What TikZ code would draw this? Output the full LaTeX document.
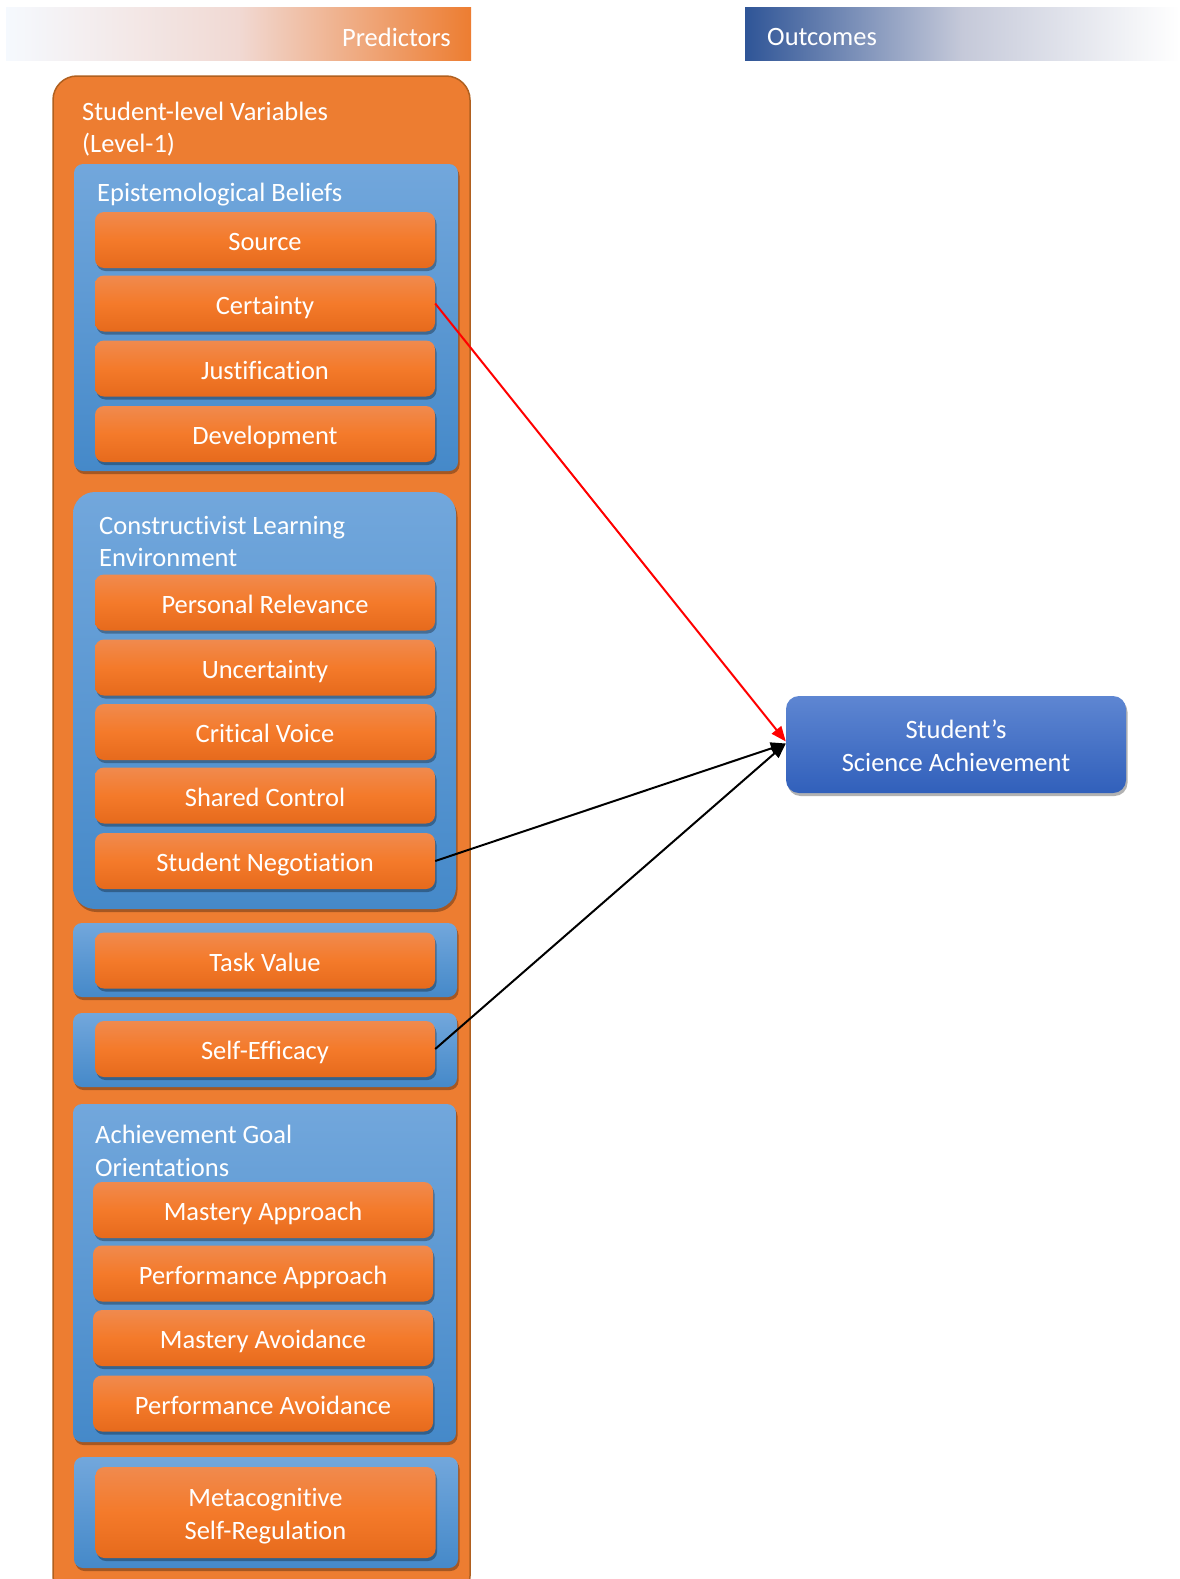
\documentclass[tikz,border=0pt]{standalone}
\usepackage{fontspec}
\setmainfont[Ligatures=NoCommon]{Carlito}
\usetikzlibrary{shadows,arrows.meta}

\definecolor{orMain}{HTML}{ED7D31}
\definecolor{orEdge}{HTML}{B0601F}
\definecolor{orTop}{HTML}{F08A4E}
\definecolor{orMid}{HTML}{F47A2A}
\definecolor{orBot}{HTML}{E66A1C}
\definecolor{blTop}{HTML}{72A7DC}
\definecolor{blBot}{HTML}{4589C9}
\definecolor{acTop}{HTML}{5E86D2}
\definecolor{acBot}{HTML}{3160BB}
\definecolor{hdBlue}{HTML}{2F5597}
\definecolor{hdPale}{HTML}{F5F9FE}
\definecolor{hdPink}{HTML}{F1D9D3}
\definecolor{hdGrey}{HTML}{C5C9D9}

\tikzset{
  x=1pt, y=-1pt,
  every node/.style={font=\fontsize{26.5}{32.5}\selectfont, text=white},
  softshadow/.style={drop shadow={shadow xshift=1.5pt, shadow yshift=-3pt, fill=black, opacity=0.3}},
  container/.style={draw=orEdge, line width=1.5pt, fill=orMain, rounded corners=24pt},
  grp/.style={rounded corners=9pt, top color=blTop, bottom color=blBot, softshadow, inner sep=0pt},
  itembox/.style={rounded corners=9pt, top color=orTop, bottom color=orBot, middle color=orMid,
               softshadow, minimum width=340pt, minimum height=56pt, inner sep=0pt, align=center},
  item/.style={itembox, text height=22pt, text depth=1pt},
  title/.style={anchor=west, align=left, inner sep=0pt},
  outcome/.style={rounded corners=13pt, top color=acTop, bottom color=acBot, softshadow,
                  minimum width=340pt, minimum height=97pt, inner sep=0pt},
  multiline/.style={align=center, inner sep=0pt},
  link/.style={line width=2pt, -{Triangle[length=15pt,width=12pt]}},
}

\begin{document}
\begin{tikzpicture}
\useasboundingbox (0,0) rectangle (1179,1579);
\clip (0,0) rectangle (1179,1579);

% header bars
\path[left color=hdPale, right color=orMain, middle color=hdPink] (6,8) rectangle (471,61);
\node[anchor=east, inner sep=0pt] (predictors) at (451,37) {Predictors};
\path[left color=hdBlue, right color=white, middle color=hdGrey] (745,8) rectangle (1179,61);
\node[anchor=west, inner sep=0pt] (outcomes) at (767,37) {Outcomes};

% student-level container
\path[container] (53,76) rectangle (470,1600);
\node[title] (lvl1) at (82,129) {Student-level Variables\\(Level-1)};

% epistemological beliefs
\node[grp, minimum width=384pt, minimum height=307pt] (gEB) at (266,317.5) {};
\node[title] (tEB) at (97,195) {Epistemological Beliefs};
\node[item] (source)  at (265,240)   {Source};
\node[item] (certain) at (265,303.5) {Certainty};
\node[item] (justif)  at (265,368.5) {Justification};
\node[item] (develop) at (265,434)   {Development};

% constructivist learning environment
\node[grp, rounded corners=22pt, minimum width=383pt, minimum height=417pt] (gCLE) at (264.5,700.5) {};
\node[title] (tCLE) at (99,541.5) {Constructivist Learning\\Environment};
\node[item] (relev)  at (265,602.5) {Personal Relevance};
\node[item] (uncert) at (265,667.5) {Uncertainty};
\node[item] (voice)  at (265,732)   {Critical Voice};
\node[item] (shared) at (265,795.5) {Shared Control};
\node[item] (negot)  at (265,861)   {Student Negotiation};

% task value
\node[grp, minimum width=384pt, minimum height=74pt] (gTV) at (265,960) {};
\node[item] (taskval) at (265,960.5) {Task Value};

% self-efficacy
\node[grp, minimum width=384pt, minimum height=74pt] (gSE) at (265,1050) {};
\node[item] (selfeff) at (265,1049) {Self-Efficacy};

% achievement goal orientations
\node[grp, minimum width=383pt, minimum height=338pt] (gAGO) at (264.5,1273) {};
\node[title] (tAGO) at (95,1151) {Achievement Goal\\Orientations};
\node[item] (mapp)  at (263,1210)   {Mastery Approach};
\node[item] (papp)  at (263,1273.5) {Performance Approach};
\node[item] (mavo)  at (263,1338)   {Mastery Avoidance};
\node[item] (pavo)  at (263,1403.5) {Performance Avoidance};

% metacognitive self-regulation
\node[grp, minimum width=384pt, minimum height=111pt] (gMSR) at (266,1512.5) {};
\node[itembox, minimum height=91pt] (metacog) at (265.5,1512.5) {};
\node[multiline, yshift=-3.5pt] (metacogtxt) at (metacog) {Metacognitive\\Self-Regulation};

% outcome
\node[outcome] (achieve) at (956,744.5) {};
\node[multiline, yshift=-1pt] (achievetxt) at (achieve) {Student’s\\Science Achievement};

% paths
\draw[link, draw=red, -{Triangle[length=15pt,width=12pt, fill=red]}] (certain.east) -- ([yshift=3pt]achieve.west);
\draw[link, draw=black] (negot.east) -- ([yshift=1pt]achieve.west);
\draw[link, draw=black] (selfeff.east) -- ([yshift=1pt]achieve.west);
\end{tikzpicture}
\end{document}
